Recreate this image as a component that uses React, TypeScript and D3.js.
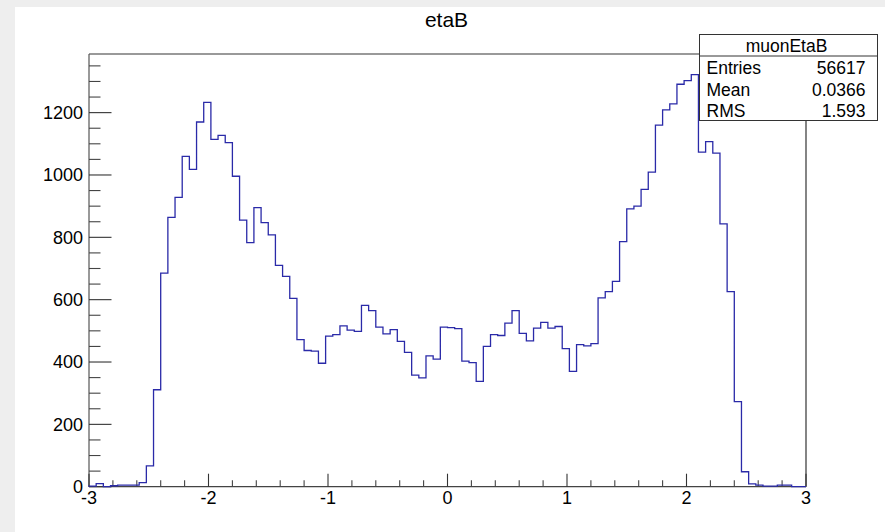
import React from "react";
import * as d3 from "d3";

// muon pseudorapidity histogram: 100 bins on [-3, 3]
const binLow = -3;
const binHigh = 3;
const binCounts = [
  2, 10, 0, 3, 5, 5, 5, 13, 67, 311,
  685, 864, 928, 1060, 1018, 1170, 1233, 1114, 1127, 1104,
  996, 855, 783, 895, 847, 808, 710, 675, 604, 472,
  437, 435, 396, 483, 488, 516, 502, 498, 582, 565,
  512, 490, 504, 466, 431, 358, 349, 420, 409, 512,
  510, 507, 403, 398, 338, 450, 488, 485, 525, 565,
  492, 468, 509, 527, 509, 514, 443, 370, 456, 452,
  459, 606, 626, 659, 786, 891, 900, 954, 1009, 1160,
  1209, 1228, 1291, 1303, 1322, 1073, 1107, 1070, 843, 626,
  273, 48, 9, 5, 2, 2, 5, 5, 0, 0,
];

const xMajorTicks = [-3, -2, -1, 0, 1, 2, 3];
const yMajorTicks = [0, 200, 400, 600, 800, 1000, 1200];

const histTitle = "etaB";
const statsName = "muonEtaB";
const statsRows: [string, string][] = [
  ["Entries", "56617"],
  ["Mean", "0.0366"],
  ["RMS", "1.593"],
];

const W = 885;
const H = 532;
const frame = { left: 89, right: 806, top: 54, bottom: 486.7 };
const FONT = "'Liberation Sans', Arial, Helvetica, sans-serif";

export default function App() {
  const yMax = d3.max(binCounts)! * 1.05;
  const x = d3.scaleLinear().domain([binLow, binHigh]).range([frame.left, frame.right]);
  const y = d3.scaleLinear().domain([0, yMax]).range([frame.bottom, frame.top]);

  const nBins = binCounts.length;
  const width = (binHigh - binLow) / nBins;
  const pts: [number, number][] = [[binLow, 0]];
  binCounts.forEach((c, i) => pts.push([binLow + i * width, c]));
  pts.push([binHigh, binCounts[nBins - 1]]);
  pts.push([binHigh, 0]);
  const line = d3
    .line<[number, number]>()
    .x((d) => x(d[0]))
    .y((d) => y(d[1]))
    .curve(d3.curveStepAfter);
  const histPath = line(pts) || "";

  const xMinor = d3.range(binLow, binHigh + 1e-9, 0.2).filter(
    (v) => Math.abs(v - Math.round(v)) > 1e-6
  );
  const yMinor = d3.range(0, yMax, 50).filter((v) => v % 200 !== 0);

  const box = { left: 699.5, right: 877.5, top: 34.5, bottom: 120.5 };
  const rowH = (box.bottom - box.top) / 4;

  return (
    <svg
      width={W}
      height={H}
      style={{ position: "absolute", left: 0, top: 0, display: "block" }}
      fontFamily={FONT}
    >
      <rect x={0} y={0} width={W} height={H} fill="#eeeeee" />
      <rect x={15} y={7} width={W - 15} height={H - 7} fill="#ffffff" />

      {/* title */}
      <text
        x={(frame.left + frame.right) / 2 - 1}
        y={26.5}
        fontSize={21}
        textAnchor="middle"
        fill="#000"
      >
        {histTitle}
      </text>

      {/* frame */}
      <line x1={frame.left} x2={frame.right} y1={frame.top} y2={frame.top} stroke="#999" strokeWidth={2} />
      <line x1={frame.right} x2={frame.right} y1={frame.top} y2={frame.bottom} stroke="#333" strokeWidth={1.2} />
      <line x1={frame.left} x2={frame.left} y1={frame.top} y2={frame.bottom} stroke="#555" strokeWidth={1.2} />
      <line x1={frame.left} x2={frame.right} y1={frame.bottom} y2={frame.bottom} stroke="#444" strokeWidth={1.2} />

      {/* y ticks */}
      {yMajorTicks.map((v) => (
        <g key={"ym" + v}>
          <line x1={frame.left} x2={frame.left + 22.5} y1={y(v)} y2={y(v)} stroke="#333" strokeWidth={1.1} />
          <text x={frame.left - 6} y={y(v)} dy="0.36em" fontSize={18} textAnchor="end" fill="#000">
            {v}
          </text>
        </g>
      ))}
      {yMinor.map((v) => (
        <line key={"yn" + v} x1={frame.left} x2={frame.left + 11.5} y1={y(v)} y2={y(v)} stroke="#444" strokeWidth={1.1} />
      ))}

      {/* x ticks */}
      {xMajorTicks.map((v) => (
        <g key={"xm" + v}>
          <line x1={x(v)} x2={x(v)} y1={frame.bottom} y2={frame.bottom - 13} stroke="#333" strokeWidth={1.1} />
          <text x={x(v)} y={504} fontSize={18} textAnchor="middle" fill="#000">
            {v}
          </text>
        </g>
      ))}
      {xMinor.map((v) => (
        <line key={"xn" + v.toFixed(2)} x1={x(v)} x2={x(v)} y1={frame.bottom} y2={frame.bottom - 6.5} stroke="#444" strokeWidth={1.1} />
      ))}

      {/* histogram outline */}
      <path d={histPath} fill="none" stroke="#2a2aa8" strokeWidth={1.3} />

      {/* statistics box */}
      <rect
        x={box.left}
        y={box.top}
        width={box.right - box.left}
        height={box.bottom - box.top}
        fill="#fff"
        stroke="#333"
        strokeWidth={1}
      />
      <line x1={box.left} x2={box.right} y1={box.top + rowH} y2={box.top + rowH} stroke="#333" strokeWidth={1} />
      <text x={(box.left + box.right) / 2 - 2} y={box.top + rowH - 4.5} fontSize={17.5} textAnchor="middle" fill="#000">
        {statsName}
      </text>
      {statsRows.map(([k, v], i) => (
        <g key={k}>
          <text x={box.left + 7} y={box.top + rowH * (i + 2) - 3.5} fontSize={17.5} fill="#000">
            {k}
          </text>
          <text x={box.right - 12} y={box.top + rowH * (i + 2) - 3.5} fontSize={17.5} textAnchor="end" fill="#000">
            {v}
          </text>
        </g>
      ))}
    </svg>
  );
}
